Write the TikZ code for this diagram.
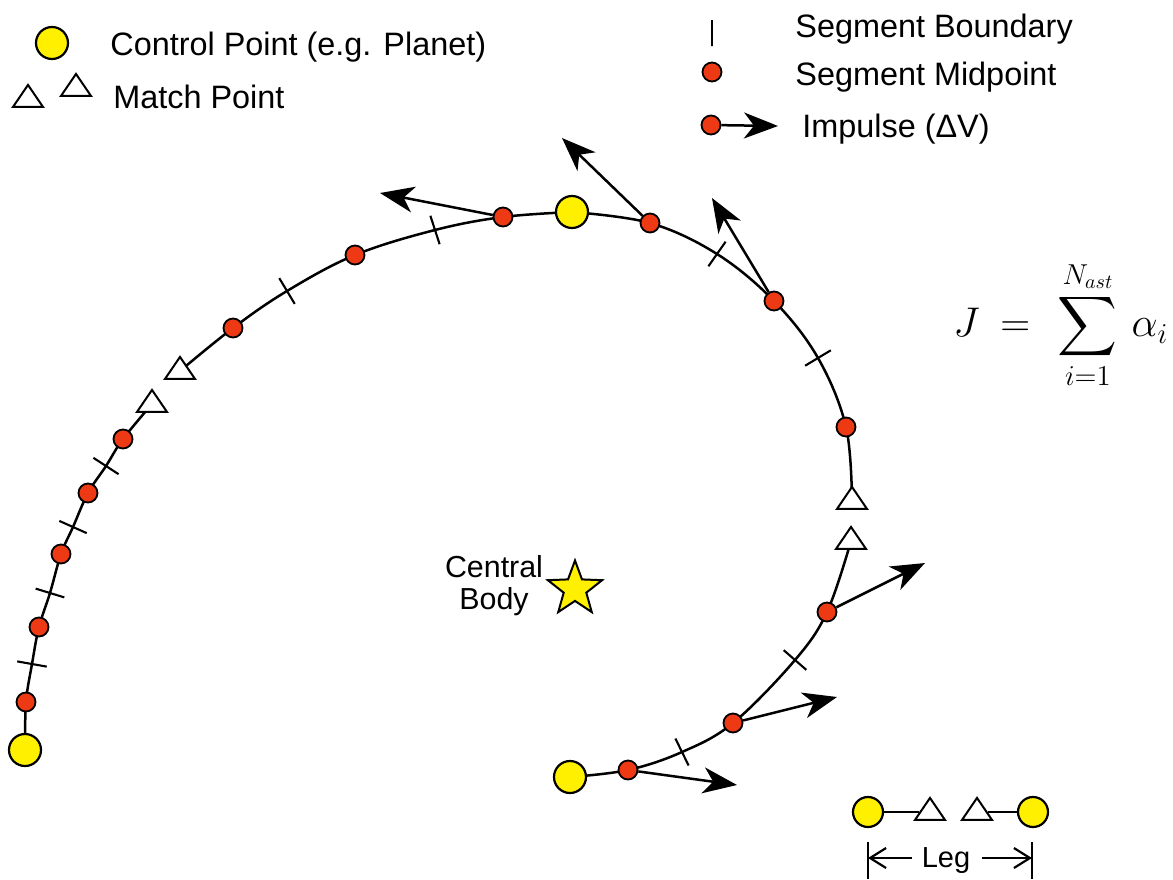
\documentclass[tikz,border=0pt]{standalone}
\usepackage{exscale}
\usepackage{fontspec}
\newfontfamily\lsans{Liberation Sans}
\usetikzlibrary{shapes.geometric, arrows.meta}
\definecolor{cpyellow}{RGB}{255,240,0}
\definecolor{midred}{RGB}{238,58,20}
\pgfdeclarelayer{bg}
\pgfsetlayers{bg,main}
\tikzset{
 ctrl/.style={circle, draw=black, fill=cpyellow, line width=1.1pt, inner sep=0pt, minimum size=16pt},
 mid/.style={circle, draw=black, fill=midred, line width=0.9pt, inner sep=0pt, minimum size=9.5pt},
 match/.style={isosceles triangle, isosceles triangle stretches=true, shape border rotate=90, draw=black, fill=white, line width=1pt, inner sep=0pt, minimum width=15pt, minimum height=11pt},
 segtick/.style={rectangle, draw=black, line width=1.05pt, inner sep=0pt, minimum width=0pt, minimum height=15pt},
 orbit/.style={line width=1.25pt},
 impulse/.style={line width=1.25pt, -{Stealth[length=17pt, width=13pt, inset=5pt]}},
 legarrow/.style={line width=1.1pt, -{Straight Barb[length=8pt, width=10pt]}},
 lbl/.style={font=\lsans\fontsize{16.2pt}{19pt}\selectfont, inner sep=0pt, anchor=base west},
}
\begin{document}
\begin{tikzpicture}[x=0.5pt, y=-0.5pt]
\useasboundingbox (0,0) rectangle (1173,879);

% ---------- legend ----------
\node[ctrl] (lc) at (52,43) {};
\node[lbl] (lct) at (110,55) {Control Point (e.g. Planet)};
\node[match] (lm1) at (28,99) {};
\node[match] (lm2) at (76,88) {};
\node[lbl] (lmt) at (113,108) {Match Point};
\node[segtick, minimum height=13pt, line width=1.1pt] (lt) at (712,33) {};
\node[lbl] (ltt) at (795,37) {Segment Boundary};
\node[mid] (ld) at (712,72) {};
\node[lbl] (ldt) at (795,85) {Segment Midpoint};
\node[mid] (li) at (711,125) {};
\coordinate (lit) at (778,126);
\node[lbl] (lit2) at (802,137) {Impulse (ΔV)};

% ---------- leg 1 ----------
\node[ctrl] (C1) at (25,750) {};
\node[mid] (m1) at (26,702) {};
\node[segtick, rotate=80] (b1) at (32,664) {};
\node[mid] (m2) at (39,627) {};
\node[segtick, rotate=73] (b2) at (50,593) {};
\node[mid] (m3) at (61,554) {};
\node[segtick, rotate=66] (b3) at (73,527) {};
\node[mid] (m4) at (88,493) {};
\node[segtick, rotate=57] (b4) at (106,466) {};
\node[mid] (m5) at (123,439) {};
\node[match] (A1) at (152,404) {};

% ---------- leg 2 ----------
\node[match] (A2) at (180,371) {};
\node[mid] (m6) at (233,328) {};
\node[segtick, rotate=31] (b5) at (287,291) {};
\node[mid] (m7) at (355,255) {};
\node[segtick, rotate=18] (b6) at (435,230) {};
\node[mid] (m8) at (503,217) {};
\node[ctrl] (C2) at (572,212) {};

% ---------- leg 3 ----------
\node[mid] (m9) at (650,223) {};
\node[segtick, rotate=-35] (b7) at (717,254) {};
\node[mid] (m10) at (774,301) {};
\node[segtick, rotate=-59] (b8) at (818,358) {};
\node[mid] (m11) at (846,427) {};
\node[match] (A3) at (852,501) {};

% ---------- leg 4 ----------
\node[match] (A4) at (851,541) {};
\node[mid] (m12) at (827,612) {};
\node[segtick, rotate=49] (b9) at (795,660) {};
\node[mid] (m13) at (733,723) {};
\node[segtick, rotate=26] (b10) at (682,752) {};
\node[mid] (m14) at (628,770) {};
\node[ctrl] (C3) at (570,777) {};

% impulse tips
\coordinate (i8) at (380,193);
\coordinate (i9) at (562,138);
\coordinate (i10) at (712,198);
\coordinate (i12) at (925,563);
\coordinate (i13) at (837,697);
\coordinate (i14) at (737,785);

% central body
\node[star, star points=5, star point ratio=2.4, draw=black, fill=cpyellow, line width=1pt, minimum size=28.5pt, inner sep=0pt] (sun) at (575,589) {};
\node[font=\lsans\fontsize{15.2pt}{16pt}\selectfont, align=center, inner sep=0pt] (cb) at (494,586) {Central\\Body};

% formula
\node[anchor=west, inner sep=0pt, font=\fontsize{20.5pt}{24pt}\selectfont] (J) at (953,325) {$J \mkern4mu=\mkern7mu \displaystyle\sum_{i=1}^{N_{ast}} \mkern3mu \alpha_i$};

% leg legend
\node[ctrl, minimum size=15pt] (k1) at (868,812) {};
\node[match] (k2) at (930,812) {};
\node[match] (k3) at (977,812) {};
\node[ctrl, minimum size=15pt] (k4) at (1033,812) {};
\node[font=\lsans\fontsize{14.5pt}{16pt}\selectfont, inner sep=0pt, anchor=base] (leg) at (946,867) {Leg};
\coordinate (kb1) at (868,842);
\coordinate (kb2) at (868,879);
\coordinate (kb3) at (1032,842);
\coordinate (kb4) at (1032,879);
\coordinate (ka1) at (912,858);
\coordinate (ka2) at (868,858);
\coordinate (ka3) at (982,858);
\coordinate (ka4) at (1032,858);

\begin{pgfonlayer}{bg}
\draw[orbit] plot[smooth, tension=0.6] coordinates {(C1) (m1) (b1) (m2) (b2) (m3) (b3) (m4) (b4) (m5) (A1)};
\draw[orbit] plot[smooth, tension=0.6] coordinates {(A2) (m6) (b5) (m7) (b6) (m8) (C2)};
\draw[orbit] plot[smooth, tension=0.6] coordinates {(C2) (m9) (b7) (m10) (b8) (m11) (A3)};
\draw[orbit] plot[smooth, tension=0.6] coordinates {(A4) (m12) (b9) (m13) (b10) (m14) (C3)};
\end{pgfonlayer}

\draw[impulse] (li) -- (lit);
\draw[impulse] (m8) -- (i8);
\draw[impulse] (m9) -- (i9);
\draw[impulse] (m10) -- (i10);
\draw[impulse] (m12) -- (i12);
\draw[impulse] (m13) -- (i13);
\draw[impulse] (m14) -- (i14);

\draw[orbit] (k1) -- (k2);
\draw[orbit] (k3) -- (k4);
\draw[line width=1.1pt] (kb1) -- (kb2);
\draw[line width=1.1pt] (kb3) -- (kb4);
\draw[legarrow] (ka1) -- (ka2);
\draw[legarrow] (ka3) -- (ka4);
\end{tikzpicture}
\end{document}
